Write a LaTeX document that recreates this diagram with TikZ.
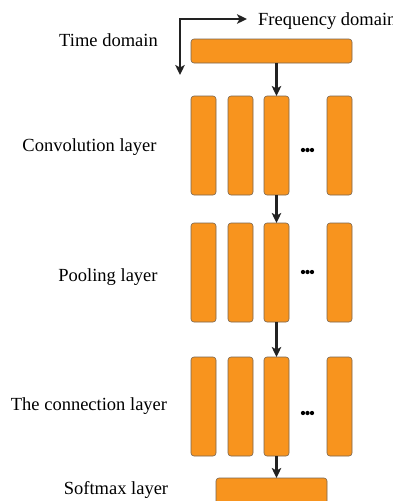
\documentclass[tikz,border=0pt]{standalone}
\usepackage{fontspec}
\setmainfont{Liberation Serif}
\usetikzlibrary{arrows.meta}
\definecolor{barfill}{RGB}{248,148,30}
\definecolor{barline}{RGB}{120,100,80}
\definecolor{arr}{RGB}{34,34,34}
\begin{document}
\begin{tikzpicture}[x=1pt,y=-1pt,
  bar/.style={draw=barline,line width=0.6pt,fill=barfill,rounded corners=3pt,inner sep=0pt,outer sep=0pt},
  col/.style={bar,minimum width=25pt,minimum height=99pt},
  lbl/.style={font=\fontsize{18.5}{22}\selectfont,inner sep=0pt,anchor=base},
  tip/.style={Stealth[length=10pt,width=9.5pt,inset=2.5pt]},
  conn/.style={draw=arr,line width=2.3pt,-{Stealth[length=10pt,width=9.5pt,inset=2.5pt]}},
  dotn/.style={fill=black,draw=none,circle,inner sep=0pt,minimum size=4.3pt}]
\useasboundingbox (0,0) rectangle (393,501);
% top bar
\node[bar,minimum width=161pt,minimum height=24pt] (top) at (271.5,51) {};
% corner arrows
\coordinate (cdown) at (180,75);
\coordinate (cright) at (247,19);
\draw[draw=arr,line width=2.3pt,{Stealth[length=10pt,width=9.5pt,inset=2.5pt]}-{Stealth[length=10pt,width=9.5pt,inset=2.5pt]}] (cdown) |- (cright);
\node[lbl,anchor=base west] (freq) at (258,25) {Frequency domain};
\node[lbl] (time) at (108.5,46) {Time domain};
% columns
\foreach \n/\x in {a/203.5,b/240.5,c/276.5,d/339.5}{
  \node[col] (c\n) at (\x,145.5) {};
  \node[col] (p\n) at (\x,272.5) {};
  \node[col] (k\n) at (\x,406.5) {};
}
\foreach \r/\y in {c/150,p/272,k/413}{
  \node[dotn] (\r dot1) at (303,\y) {};
  \node[dotn] (\r dot2) at (307.5,\y) {};
  \node[dotn] (\r dot3) at (312,\y) {};
}
% softmax bar
\node[bar,minimum width=111pt,minimum height=26pt] (soft) at (271.5,491) {};
% labels
\node[lbl] (convl) at (89.5,151) {Convolution layer};
\node[lbl] (pooll) at (108,281) {Pooling layer};
\node[lbl] (connl) at (89,410) {The connection layer};
\node[lbl] (softl) at (116,494) {Softmax layer};
% arrows
\draw[conn] (top.south -| cc.north) -- (cc.north);
\draw[conn] (cc.south) -- (pc.north);
\draw[conn] (pc.south) -- (kc.north);
\draw[conn] (kc.south) -- (soft.north -| kc.south);
\end{tikzpicture}
\end{document}
